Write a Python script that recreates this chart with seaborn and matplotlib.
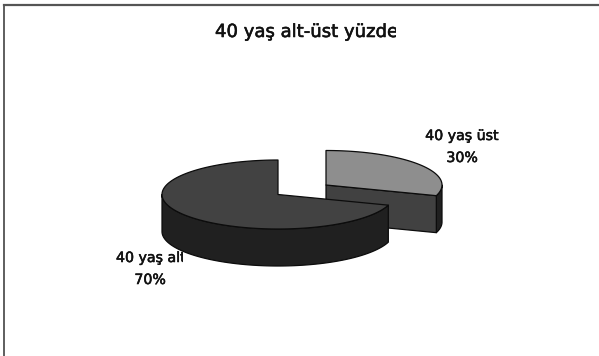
import numpy as np
import matplotlib
matplotlib.use("Agg")
import matplotlib.pyplot as plt
import matplotlib.patheffects as pe
from matplotlib.patches import Polygon, Rectangle
import seaborn as sns

# Age-group shares shown in the pie
groups = ["40 yaş üst", "40 yaş alt"]
shares = [30, 70]
chart_title = "40 yaş alt-üst yüzde"

sns.set_theme(style="white")
plt.rcParams["font.family"] = ["DejaVu Sans"]

top_colors = sns.color_palette(["#8e8e8e", "#424242"])
wall_colors = sns.color_palette(["#414141", "#202020"])

fig = plt.figure(figsize=(5.99, 3.56), dpi=100, facecolor="white")
ax = fig.add_axes([4 / 599, 0, 595 / 599, 351 / 356])
ax.set_xlim(4, 599)
ax.set_ylim(356, 5)
ax.set_xticks([])
ax.set_yticks([])
sns.despine(ax=ax, top=False, right=True, bottom=True)
ax.spines["top"].set_color("#555555")
ax.spines["top"].set_linewidth(1.6)
ax.spines["left"].set_color("#333333")
ax.spines["left"].set_linewidth(1.1)

# Pie geometry in axis units: tilted ellipse plus an extruded rim
RX, RY, DEPTH = 116, 34.5, 37
centers = [(326, 185), (278, 194.5)]
EDGE = dict(edgecolor="#0c0c0c", linewidth=0.9, joinstyle="round")


def rim(cx, cy, a0, a1, drop=0.0):
    t = np.radians(np.linspace(a0, a1, 120))
    return np.column_stack([cx + RX * np.cos(t), cy - RY * np.sin(t) + drop])


# Slices run clockwise from twelve o'clock, so the first one ends below the x axis
sweep = 360 * np.array(shares) / sum(shares)
start = 90.0
spans = []
for s in sweep:
    spans.append((start - s, start))
    start -= s

# Small slice: rim wall, cut face, then top
(a0, a1), (cx, cy) = spans[0], centers[0]
outer = rim(cx, cy, a0, 0)
ax.add_patch(Polygon(np.vstack([outer, rim(cx, cy, 0, a0, DEPTH)]), facecolor=wall_colors[1], **EDGE))
end = rim(cx, cy, a0, a0)[0]
ax.add_patch(Polygon([(cx, cy), end, end + [0, DEPTH], (cx, cy + DEPTH)], facecolor=wall_colors[0], **EDGE))
ax.add_patch(Polygon(np.vstack([[(cx, cy)], rim(cx, cy, a0, a1)]), facecolor=top_colors[0], **EDGE))

# Large slice: the front wall is visible from the left extreme round to the cut
(a0, a1), (cx, cy) = spans[1], centers[1]
ax.add_patch(Polygon(np.vstack([rim(cx, cy, -180, spans[0][0]), rim(cx, cy, spans[0][0], -180, DEPTH)]),
                     facecolor=wall_colors[1], **EDGE))
ax.add_patch(Polygon(np.vstack([[(cx, cy)], rim(cx, cy, a0, a1)]), facecolor=top_colors[1], **EDGE))

HEAVY = [pe.withStroke(linewidth=0.4, foreground="#111111")]


def label(x, y, text, size, ha="center", right=None):
    # Label text, optionally cut off at a fixed right-hand limit
    t = ax.text(x, y, text, ha=ha, va="center", fontsize=size, color="#111111", path_effects=HEAVY)
    if right is not None:
        t.set_clip_on(True)
        t.set_clip_path(Rectangle((0, 0), right, 356, transform=ax.transData))
    return t


label(215, 32, chart_title, 13, ha="left", right=396)
label(462, 136, groups[0], 10.2)
label(462, 158, f"{shares[0]}%", 10.2)
label(116, 258, groups[1], 10.2, ha="left", right=183)
label(150, 280, f"{shares[1]}%", 10.2)

fig.savefig("out.png", dpi=100)
